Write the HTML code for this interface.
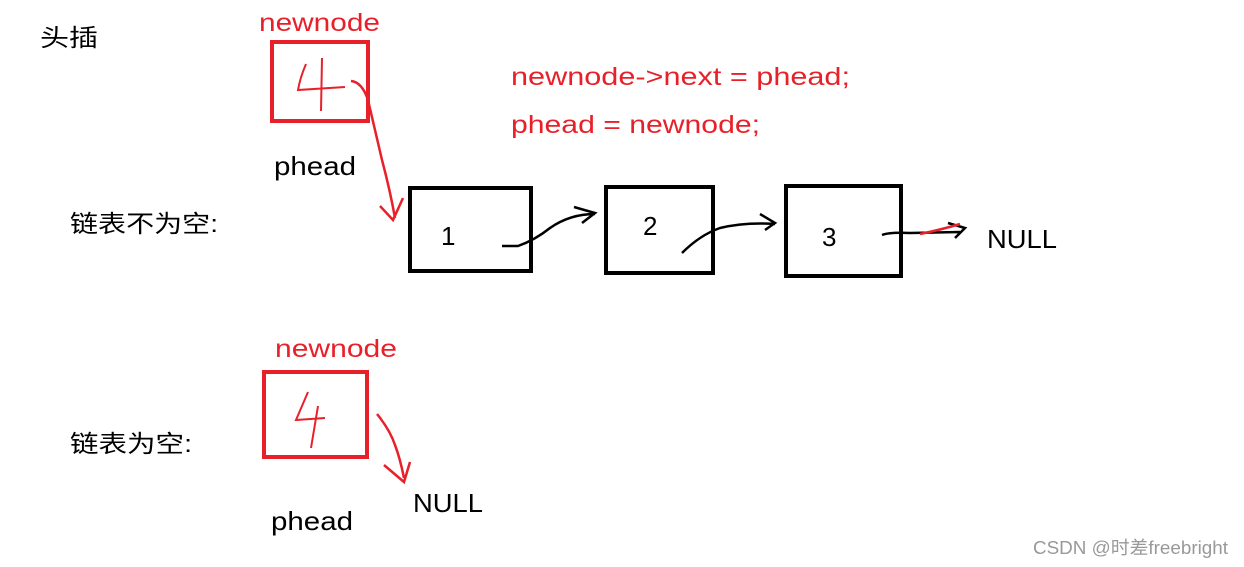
<!DOCTYPE html>
<html><head><meta charset="utf-8"><style>
html,body{margin:0;padding:0;background:#fff;}
svg{display:block}
text{font-family:"Liberation Sans","Noto Sans CJK SC",sans-serif;}
</style></head><body>
<svg width="1244" height="567" viewBox="0 0 1244 567" xmlns="http://www.w3.org/2000/svg">
<rect width="1244" height="567" fill="#fff"/>
<text x="40" y="46" font-size="24" fill="#000" textLength="58" lengthAdjust="spacingAndGlyphs">头插</text>
<text x="259" y="31" font-size="25" fill="#e8202a" textLength="121" lengthAdjust="spacingAndGlyphs">newnode</text>
<rect x="272" y="42" width="96" height="79" fill="none" stroke="#e8202a" stroke-width="4"/>
<path d="M306 64 Q300 78 298 90 L345 87 M322 58 L321 111" fill="none" stroke="#e8202a" stroke-width="2"/>
<path d="M351 81 Q362 82 368 100 Q375 130 382 160 Q390 190 395 218 M380 206 L393 220 L403 198" fill="none" stroke="#e8202a" stroke-width="2.5"/>
<text x="274" y="175" font-size="26" fill="#000" textLength="82" lengthAdjust="spacingAndGlyphs">phead</text>
<text x="511" y="85" font-size="25" fill="#e8202a" textLength="339" lengthAdjust="spacingAndGlyphs">newnode-&gt;next = phead;</text>
<text x="511" y="133" font-size="25" fill="#e8202a" textLength="249" lengthAdjust="spacingAndGlyphs">phead = newnode;</text>
<text x="70" y="232" font-size="24" fill="#000" textLength="148" lengthAdjust="spacingAndGlyphs">链表不为空:</text>
<rect x="410" y="188" width="121" height="83" fill="none" stroke="#000" stroke-width="4"/>
<text x="441" y="245" font-size="26" fill="#000">1</text>
<rect x="606" y="187" width="107" height="86" fill="none" stroke="#000" stroke-width="4"/>
<text x="643" y="235" font-size="26" fill="#000">2</text>
<rect x="786" y="186" width="115" height="90" fill="none" stroke="#000" stroke-width="4"/>
<text x="822" y="246" font-size="26" fill="#000">3</text>
<path d="M502 246 L518 246 Q535 240 550 228 Q570 214 595 214 M574 207 L595 213 L582 223" fill="none" stroke="#000" stroke-width="2.5"/>
<path d="M682 253 Q700 235 720 228 Q745 222 775 224 M760 214 L775 223 L765 230" fill="none" stroke="#000" stroke-width="2.5"/>
<path d="M882 235 Q890 232 910 233 L960 232 M948 223 L965 228 L955 238" fill="none" stroke="#000" stroke-width="2.5"/>
<path d="M920 234 Q940 230 960 224" fill="none" stroke="#e8202a" stroke-width="2.5"/>
<text x="987" y="248" font-size="26" fill="#000" textLength="70" lengthAdjust="spacingAndGlyphs">NULL</text>
<text x="70" y="452" font-size="24" fill="#000" textLength="122" lengthAdjust="spacingAndGlyphs">链表为空:</text>
<text x="275" y="357" font-size="25" fill="#e8202a" textLength="122" lengthAdjust="spacingAndGlyphs">newnode</text>
<rect x="264" y="372" width="103" height="85" fill="none" stroke="#e8202a" stroke-width="4"/>
<path d="M308 392 L296 420 L325 418 M318 406 L311 448" fill="none" stroke="#e8202a" stroke-width="2"/>
<path d="M377 414 Q390 430 395 445 Q400 458 404 478 M384 465 L404 482 L410 462" fill="none" stroke="#e8202a" stroke-width="2.5"/>
<text x="271" y="530" font-size="26" fill="#000" textLength="82" lengthAdjust="spacingAndGlyphs">phead</text>
<text x="413" y="512" font-size="26" fill="#000" textLength="70" lengthAdjust="spacingAndGlyphs">NULL</text>
<text x="1033" y="554" font-size="18" fill="#999" textLength="195" lengthAdjust="spacingAndGlyphs">CSDN @时差freebright</text>
</svg>
</body></html>
